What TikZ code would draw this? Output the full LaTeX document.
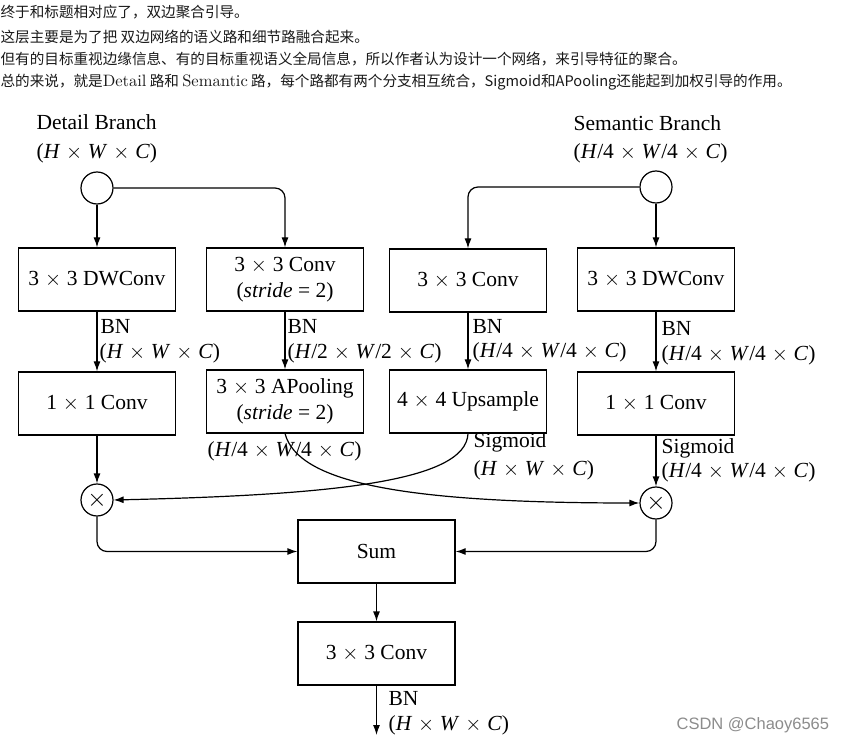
\documentclass[tikz,border=0pt]{standalone}
\usepackage{fontspec}
\setmainfont{Liberation Serif}
\newfontfamily\cjk{Noto Sans CJK SC}
\newfontfamily\lmr{lmroman10-regular.otf}
\newfontfamily\wmfont{Liberation Sans}
\usetikzlibrary{arrows.meta}
\newcommand\X{\hspace{0.27em}$\times$\hspace{0.27em}}
\newcommand\vi[1]{\textit{#1}}
\newcommand\HWC{(\vi{H}\X\vi{W}\X\vi{C})}
\newcommand\HWCh{(\vi{H}/2\X\vi{W}/2\X\vi{C})}
\newcommand\HWCq{(\vi{H}/4\X\vi{W}/4\X\vi{C})}
\begin{document}
\begin{tikzpicture}[x=1pt,y=-1pt,
  font=\fontsize{21.5}{26}\selectfont,
  line width=1.2pt,
  box/.style={draw, minimum width=157pt, minimum height=63pt, inner sep=0pt, align=center},
  arr/.style={-{Latex[length=10pt,width=7pt]}},
  lab/.style={anchor=west, inner sep=0pt},
  circ/.style={draw, circle, minimum size=32pt, inner sep=0pt},
  toptext/.style={anchor=west, inner sep=0pt, text=black!90, font=\cjk\fontsize{14.6}{16}\selectfont},
  wm/.style={anchor=west, inner sep=0pt, text=black!45, font=\wmfont\fontsize{16.5}{18}\selectfont}]
\useasboundingbox (0,0) rectangle (849,743);
% top text
\node[toptext] (t1) at (0,12) {终于和标题相对应了，双边聚合引导。};
\node[toptext] (t2) at (0,37) {这层主要是为了把 双边网络的语义路和细节路融合起来。};
\node[toptext] (t3) at (0,59) {但有的目标重视边缘信息、有的目标重视语义全局信息，所以作者认为设计一个网络，来引导特征的聚合。};
\node[toptext] (t4) at (0,82) {总的来说，就是{\lmr\fontsize{16.5}{16}\selectfont Detail} 路和 {\lmr\fontsize{16.5}{16}\selectfont Semantic} 路，每个路都有两个分支相互统合，Sigmoid和APooling还能起到加权引导的作用。};
% branch titles
\node[lab] (dt) at (36,122) {Detail Branch};
\node[lab] (dd) at (36,153) {\HWC};
\node[lab] (st) at (573,123) {Semantic Branch};
\node[lab] (sd) at (573,153) {\HWCq};
% input circles
\node[circ] (c1) at (97,188) {};
\node[circ] (c2) at (656,187) {};
% row 1
\node[box] (b1) at (97,279.5) {3\X3 DWConv};
\node[box] (b2) at (285,279.5) {3\X3 Conv\\(\vi{stride} = 2)};
\node[box] (b3) at (468,280.5) {3\X3 Conv};
\node[box] (b4) at (656,279.5) {3\X3 DWConv};
% row 2
\node[box] (b5) at (97,403.5) {1\X1 Conv};
\node[box] (b6) at (285,401.5) {3\X3 APooling\\(\vi{stride} = 2)};
\node[box] (b7) at (468,401.5) {4\X4 Upsample};
\node[box] (b8) at (656,403.5) {1\X1 Conv};
% multiply
\node[circ] (m1) at (97,500) {\fontsize{26}{26}\selectfont$\times$};
\node[circ] (m2) at (656,503) {\fontsize{26}{26}\selectfont$\times$};
% sum, conv
\node[box] (sum) at (376.5,551.5) {Sum};
\node[box] (cv) at (376.5,653.5) {3\X3 Conv};
\coordinate (out) at (376.5,735);
% connectors top
\draw[arr] (c1) -- (b1);
\draw[arr, rounded corners=10pt] (c1.east) -| (b2.north);
\draw[arr] (c2) -- (b4);
\draw[arr, rounded corners=10pt] (c2.west) -| (b3.north);
% row1 -> row2
\draw[arr] (b1) -- (b5);
\draw[arr] (b2) -- (b6);
\draw[arr] (b3.south) -- (b7.north);
\draw[arr] (b4) -- (b8);
% row2 -> multiply
\draw[arr] (b5) -- (m1);
\draw[arr] (b8.south) -- (m2.north);
\draw[arr] (b6.south) .. controls (298,482) and (400,503) .. (m2.west);
\draw[arr] (b7.south) .. controls (466,482) and (330,495) .. (m1.east);
% to sum
\draw[arr, rounded corners=10pt] (m1.south) |- (sum.west);
\draw[arr, rounded corners=10pt] (m2.south) |- (sum.east);
\draw[arr] (sum) -- (cv);
\draw[arr] (cv.south) -- (out);
% labels
\node[lab] (l1a) at (100,326) {BN};
\node[lab] (l1b) at (99,353) {\HWC};
\node[lab] (l2a) at (287,326) {BN};
\node[lab] (l2b) at (287,353) {\HWCh};
\node[lab] (l3a) at (472,326) {BN};
\node[lab] (l3b) at (472,352) {\HWCq};
\node[lab] (l4a) at (661,328) {BN};
\node[lab] (l4b) at (661,355) {\HWCq};
\node[lab] (l6) at (207,451) {\HWCq};
\node[lab] (l7a) at (473,442) {Sigmoid};
\node[lab] (l7b) at (473,470) {\HWC};
\node[lab] (l8a) at (661,448) {Sigmoid};
\node[lab] (l8b) at (661,472) {\HWCq};
\node[lab] (loa) at (388,698) {BN};
\node[lab] (lob) at (388,725) {\HWC};
\node[wm] (w) at (676,725) {CSDN @Chaoy6565};
\end{tikzpicture}
\end{document}
